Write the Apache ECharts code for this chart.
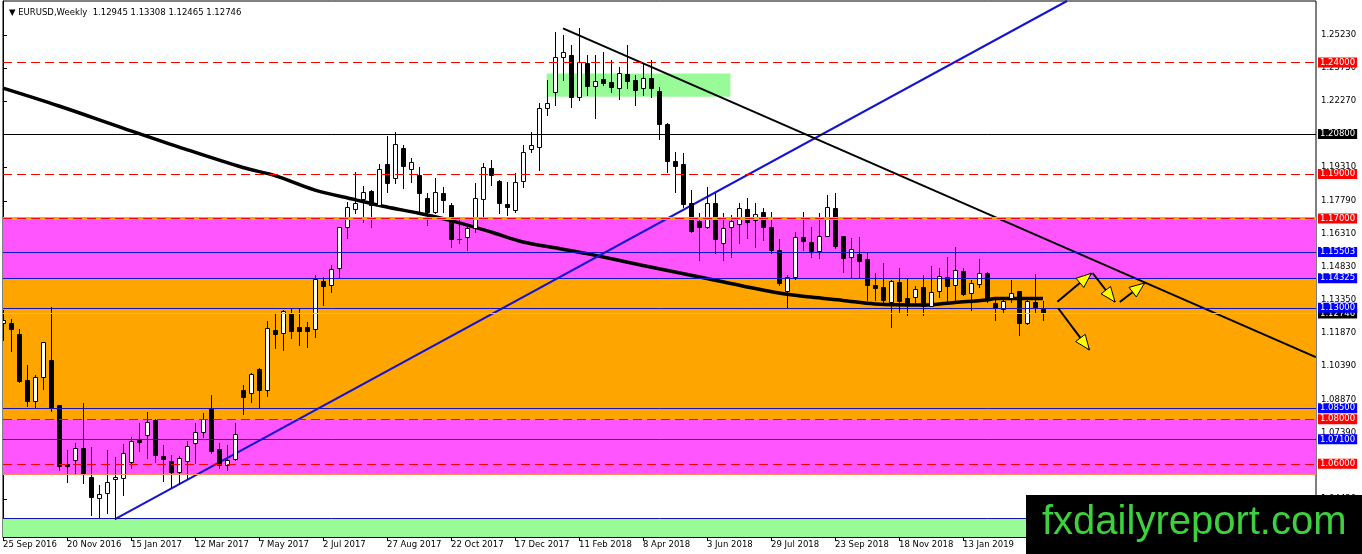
<!DOCTYPE html>
<html><head><meta charset="utf-8">
<script src="https://cdn.jsdelivr.net/npm/echarts@6/dist/echarts.min.js"></script>
<style>html,body{margin:0;padding:0;background:#fff}#c{width:1362px;height:554px}</style>
</head><body><div id="c"></div>
<script>
// ---- data ----
const tickWeeks = [0, 8, 16, 24, 32, 40, 48, 56, 64, 72, 80, 88, 96, 104, 112, 120];
const tickLabels = ['25 Sep 2016','20 Nov 2016','15 Jan 2017','12 Mar 2017','7 May 2017','2 Jul 2017','27 Aug 2017','22 Oct 2017','17 Dec 2017','11 Feb 2018','8 Apr 2018','3 Jun 2018','29 Jul 2018','23 Sep 2018','18 Nov 2018','13 Jan 2019'];
const priceTicks = [1.2523,1.2375,1.2227,1.2079,1.1931,1.1779,1.1631,1.1483,1.1335,1.1187,1.1039,1.0887,1.0739,1.0591,1.0443];

const O = [1.1232,1.1230,1.1182,1.0976,1.0883,1.0988,1.1066,1.0864,1.0599,1.0617,1.0670,1.0540,1.0446,1.0468,1.0531,1.0535,1.0610,1.0707,1.0729,1.0797,
1.0635,1.0613,1.0565,1.0614,1.0692,1.0744,1.0846,1.0665,1.0595,1.0620,1.0931,1.0916,1.1025,1.0930,1.1200,1.1185,1.1278,1.1212,1.1215,1.1203,
1.1420,1.1402,1.1477,1.1664,1.1743,1.1786,1.1823,1.1761,1.1945,1.1880,1.2015,1.1922,1.1895,1.1791,1.1731,1.1813,1.1761,1.1607,1.1616,1.1656,
1.1786,1.1925,1.1870,1.1765,1.1738,1.1870,1.2010,1.2022,1.2194,1.2266,1.2423,1.2433,1.2246,1.2399,1.2294,1.2324,1.2311,1.2287,1.2348,1.2321,
1.2284,1.2329,1.2272,1.2124,1.1958,1.1945,1.1771,1.1689,1.1661,1.1771,1.1589,1.1663,1.1676,1.1741,1.1694,1.1728,1.1661,1.1560,1.1377,1.1439,
1.1616,1.1596,1.1555,1.1623,1.1746,1.1622,1.1526,1.1541,1.1519,1.1402,1.1392,1.1327,1.1414,1.1342,1.1350,1.1392,1.1308,1.1377,1.1439,1.1402,
1.1466,1.1365,1.1405,1.1454,1.1320,1.1293,1.1342,1.1377,1.1233,1.1324,1.12945];
const H = [1.1290,1.1248,1.1203,1.1043,1.0999,1.1148,1.1302,1.0866,1.0662,1.0692,1.0874,1.0677,1.0505,1.0662,1.0632,1.0689,1.0722,1.0782,1.0834,1.0800,
1.0685,1.0640,1.0635,1.0704,1.0785,1.0827,1.0909,1.0692,1.0685,1.0782,1.0954,1.1006,1.1030,1.1240,1.1275,1.1290,1.1297,1.1297,1.1237,1.1447,
1.1439,1.1492,1.1664,1.1776,1.1910,1.1846,1.1828,1.1943,1.2070,1.2089,1.2030,1.1970,1.1933,1.1813,1.1880,1.1843,1.1768,1.1693,1.1667,1.1861,
1.1948,1.1963,1.1875,1.1865,1.1906,1.2030,1.2089,1.2217,1.2321,1.2538,1.2523,1.2478,1.2553,1.2433,1.2433,1.2448,1.2411,1.2381,1.2478,1.2344,
1.2396,1.2411,1.2291,1.2127,1.2000,1.1993,1.1828,1.1726,1.1843,1.1813,1.1724,1.1716,1.1771,1.1791,1.1768,1.1746,1.1731,1.1610,1.1445,1.1641,
1.1731,1.1663,1.1724,1.1806,1.1813,1.1622,1.1611,1.1619,1.1551,1.1457,1.1502,1.1425,1.1477,1.1432,1.1397,1.1447,1.1487,1.1477,1.1529,1.1574,
1.1477,1.1424,1.1517,1.1462,1.1342,1.1347,1.1424,1.1377,1.1342,1.1450,1.13308];
const L = [1.1155,1.1107,1.0968,1.0860,1.0856,1.0937,1.0838,1.0573,1.0520,1.0558,1.0513,1.0371,1.0356,1.0378,1.0352,1.0460,1.0580,1.0656,1.0625,1.0610,
1.0525,1.0498,1.0508,1.0538,1.0605,1.0722,1.0647,1.0580,1.0572,1.0617,1.0824,1.0879,1.0851,1.0905,1.1118,1.1111,1.1163,1.1133,1.1126,1.1170,
1.1312,1.1372,1.1439,1.1611,1.1724,1.1686,1.1661,1.1756,1.1820,1.1858,1.1836,1.1865,1.1731,1.1671,1.1724,1.1731,1.1574,1.1589,1.1559,1.1641,
1.1711,1.1850,1.1726,1.1716,1.1731,1.1843,1.1999,1.1918,1.2164,1.2209,1.2321,1.2202,1.2232,1.2254,1.2150,1.2299,1.2269,1.2236,1.2284,1.2209,
1.2254,1.2246,1.2055,1.1910,1.1820,1.1753,1.1641,1.1514,1.1656,1.1544,1.1514,1.1529,1.1592,1.1611,1.1574,1.1604,1.1544,1.1400,1.1305,1.1430,
1.1559,1.1529,1.1522,1.1620,1.1570,1.1462,1.1439,1.1439,1.1335,1.1335,1.1327,1.1215,1.1282,1.1268,1.1312,1.1268,1.1308,1.1347,1.1320,1.1323,
1.1358,1.1290,1.1392,1.1327,1.1245,1.1282,1.1327,1.1178,1.1227,1.1275,1.12465];
const C = [1.1245,1.1203,1.0973,1.0883,1.0988,1.1145,1.0854,1.0592,1.0590,1.0670,1.0560,1.0453,1.0465,1.0520,1.0540,1.0647,1.0704,1.0698,1.0789,1.0640,
1.0620,1.0565,1.0625,1.0680,1.0742,1.0801,1.0658,1.0595,1.0617,1.0734,1.0898,1.1003,1.0931,1.1208,1.1182,1.1285,1.1197,1.1197,1.1197,1.1428,
1.1399,1.1472,1.1661,1.1750,1.1768,1.1818,1.1761,1.1921,1.1858,1.2033,1.1937,1.1952,1.1813,1.1731,1.1820,1.1783,1.1607,1.1609,1.1656,1.1791,
1.1930,1.1895,1.1771,1.1750,1.1865,1.1999,1.2030,1.2194,1.2217,1.2423,1.2448,1.2246,1.2403,1.2294,1.2317,1.2306,1.2289,1.2351,1.2318,1.2276,
1.2329,1.2284,1.2124,1.1959,1.1937,1.1765,1.1646,1.1661,1.1768,1.1608,1.1656,1.1689,1.1746,1.1686,1.1719,1.1661,1.1559,1.1410,1.1439,1.1619,
1.1599,1.1555,1.1622,1.1750,1.1577,1.1522,1.1562,1.1511,1.1402,1.1390,1.1335,1.1420,1.1332,1.1323,1.1383,1.1308,1.1372,1.1442,1.1398,1.1469,
1.1362,1.1409,1.1457,1.1335,1.1298,1.1332,1.1365,1.1233,1.1332,1.1302,1.12746];

const maIdx = [0, 7, 15, 22, 30, 34, 39, 44, 48, 52, 56, 61, 65, 70, 73, 80, 88, 97, 101, 105, 109, 115, 119, 123, 124, 130];
const maVal = [1.2285,1.2205,1.2106,1.2021,1.1929,1.1893,1.1828,1.1785,1.1752,1.1724,1.1691,1.1640,1.1595,1.1563,1.1543,1.1490,1.1431,1.1366,1.1348,1.1333,1.1317,1.1312,1.1324,1.1335,1.1342,1.1342];

const levelValues = [1.17, 1.24, 1.208, 1.19, 1.17, 1.15503, 1.14325, 1.12746, 1.13, 1.085, 1.08, 1.071, 1.06, 1.0553, 1.0354];
const levelKinds  = ['orange','red','black','red','red','blue','blue','bid','blue','blue','red','blue','red','salmon','navy'];

const zoneBands = [[1.17, 1.14325], [1.14325, 1.08], [1.08, 1.0553], [1.0354, 1.0272]];
const zoneKinds = ['magenta', 'orange', 'magenta', 'green'];
const greenBox = [[67.96, 1.2351], [90.93, 1.2246]];

const trendBlue = [[14, 1.0352], [133, 1.2676]];
const trendBlack = [[70, 1.2553], [164.1, 1.1079]];
const arrows = [[131.8, 1.1327, 136.05, 1.1455], [136.2, 1.1456, 139.0, 1.1326], [139.6, 1.1326, 142.7, 1.1411], [131.9, 1.1298, 135.8, 1.1111]];

// ---- styles ----
const FONT = '"DejaVu Sans", sans-serif';
const zoneColor = {magenta: '#FF55FF', orange: '#FFA500', green: '#98FB98'};
const levelStyle = {
  orange: {line: '#FFA500', w: 3, type: 'solid', box: null},
  red:    {line: '#FF0000', w: 1, type: [9, 5], box: '#FF0000'},
  black:  {line: '#000000', w: 1, type: 'solid', box: '#000000'},
  blue:   {line: '#1414C0', w: 1, type: 'solid', box: '#0000FF'},
  bid:    {line: '#C0C0C0', w: 1, type: 'solid', box: '#000000'},
  salmon: {line: '#FF8C69', w: 1, type: 'solid', box: null},
  navy:   {line: '#1414A0', w: 1, type: 'solid', box: null}
};

const chart = echarts.init(document.getElementById('c'), null, {renderer: 'canvas'});

function renderCandle(params, api) {
  const i = api.value(0), o = api.value(1), c = api.value(2), l = api.value(3), h = api.value(4);
  const pO = api.coord([i, o]), pC = api.coord([i, c]), pL = api.coord([i, l]), pH = api.coord([i, h]);
  const cx = Math.round(pO[0]);
  const top = Math.round(Math.min(pO[1], pC[1])), bot = Math.round(Math.max(pO[1], pC[1]));
  const up = c >= o;
  return {type: 'group', children: [
    {type: 'line', shape: {x1: cx + 0.5, y1: Math.round(pH[1]), x2: cx + 0.5, y2: Math.round(pL[1]) + 1}, style: {stroke: '#000', lineWidth: 1}},
    {type: 'rect', shape: {x: cx - 1.5, y: top + 0.5, width: 4, height: Math.max(bot - top, 0)}, style: {fill: up ? '#fff' : '#000', stroke: '#000', lineWidth: 1}}
  ]};
}
function renderArrow(params, api) {
  const a = api.coord([api.value(0), api.value(1)]), b = api.coord([api.value(2), api.value(3)]);
  const dx = b[0] - a[0], dy = b[1] - a[1], len = Math.hypot(dx, dy), ux = dx / len, uy = dy / len;
  const hl = 15, hw = 6;
  const base = [b[0] - ux * hl, b[1] - uy * hl];
  const p1 = [base[0] - uy * hw, base[1] + ux * hw], p2 = [base[0] + uy * hw, base[1] - ux * hw];
  return {type: 'group', children: [
    {type: 'line', shape: {x1: a[0], y1: a[1], x2: b[0], y2: b[1]}, style: {stroke: '#000', lineWidth: 2}},
    {type: 'polygon', shape: {points: [b, p1, p2]}, style: {fill: '#FFFF00', stroke: '#000', lineWidth: 1}}
  ]};
}

const n = O.length;
const option = {
  animation: false,
  backgroundColor: '#fff',
  title: {
    text: '\u25BC EURUSD,Weekly  ' + [O[n-1], H[n-1], L[n-1], C[n-1]].map(v => v.toFixed(5)).join(' '),
    left: 4, top: 3,
    textStyle: {fontSize: 8.5, fontWeight: 'normal', color: '#000', fontFamily: FONT}
  },
  grid: {left: 3, right: 46, top: 1, bottom: 17, show: true, borderColor: '#000', borderWidth: 1},
  xAxis: {
    type: 'value', min: 0, max: 164.125,
    axisLine: {lineStyle: {color: '#000', width: 1}},
    axisTick: {customValues: tickWeeks, length: 4, lineStyle: {color: '#000'}},
    axisLabel: {customValues: tickWeeks, align: 'left', margin: 3, fontSize: 8.5, color: '#000', fontFamily: FONT,
      formatter: v => tickLabels[tickWeeks.indexOf(Math.round(v))] || ''},
    splitLine: {show: false}
  },
  yAxis: {
    type: 'value', position: 'right', min: 1.0272, max: 1.2676, scale: true,
    axisLine: {show: true, lineStyle: {color: '#000', width: 1}},
    axisTick: {show: true, customValues: priceTicks, length: 4, lineStyle: {color: '#000'}},
    axisLabel: {customValues: priceTicks, margin: 5, fontSize: 8.5, color: '#000', fontFamily: FONT, formatter: v => v.toFixed(5)},
    splitLine: {show: false}
  },
  series: [
    {
      name: 'zones', type: 'line', data: [], clip: false, z: 1, silent: true,
      markArea: {silent: true, data: zoneBands.map((b, k) => [
        {yAxis: b[0], itemStyle: {color: zoneColor[zoneKinds[k]], opacity: 1}}, {yAxis: b[1]}
      ]).concat([[{xAxis: greenBox[0][0], yAxis: greenBox[0][1], itemStyle: {color: zoneColor.green, opacity: 1}}, {xAxis: greenBox[1][0], yAxis: greenBox[1][1]}]])}
    },
    {
      name: 'levels', type: 'line', data: [], clip: false, z: 2, silent: true,
      markLine: {silent: true, symbol: ['none', 'none'], animation: false, precision: 5,
        data: levelValues.map((v, k) => {
          const s = levelStyle[levelKinds[k]];
          return {yAxis: v, lineStyle: {color: s.line, width: s.w, type: s.type},
            label: s.box ? {show: true, position: 'end', distance: 2, formatter: v.toFixed(5), backgroundColor: s.box, color: '#fff',
              padding: [1, 2, 0, 2], lineHeight: 9, fontSize: 8.5, fontFamily: FONT} : {show: false}};
        })}
    },
    {name: 'ma', type: 'line', z: 3, symbol: 'none', smooth: 0.35, data: maIdx.map((x, k) => [x, maVal[k]]),
      lineStyle: {color: '#000', width: 3.5}},
    {name: 'trendBlue', type: 'line', z: 3, symbol: 'none', data: trendBlue, lineStyle: {color: '#1414D2', width: 2}},
    {name: 'trendBlack', type: 'line', z: 3, symbol: 'none', data: trendBlack, lineStyle: {color: '#000', width: 2}},
    {name: 'candles', type: 'custom', z: 4, clip: true, renderItem: renderCandle,
      encode: {x: 0, y: [1, 2, 3, 4]},
      data: O.map((o, i) => [i, o, C[i], L[i], H[i]])},
    {name: 'arrows', type: 'custom', z: 5, clip: false, renderItem: renderArrow,
      encode: {x: [0, 2], y: [1, 3]}, data: arrows}
  ],
  graphic: [
    {type: 'rect', left: 1026, top: 495, shape: {width: 336, height: 59}, style: {fill: '#000'}, z: 100},
    {type: 'text', left: 1042, top: 503, style: {text: 'fxdailyreport.com', fill: '#3DD23D', font: '40px "Liberation Sans", Arial, sans-serif'}, z: 101}
  ]
};
chart.setOption(option);
</script>
</body></html>
